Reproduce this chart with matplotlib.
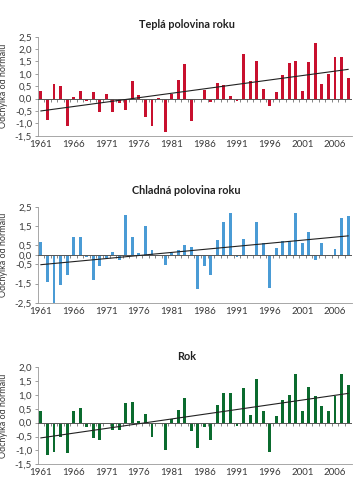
import matplotlib
matplotlib.use("Agg")
import matplotlib.pyplot as plt
import numpy as np

years = list(range(1961, 2009))

warm = [0.30, -0.88, 0.58, 0.50, -1.10, 0.05, 0.30, -0.10, 0.25, -0.55,
        0.20, -0.55, -0.18, -0.48, 0.70, 0.15, -0.75, -1.12, 0.02, -1.35,
        0.20, 0.77, 1.38, -0.92, -0.02, 0.35, -0.12, 0.63, 0.56, 0.12,
        -0.08, 1.82, 0.72, 1.53, 0.38, -0.32, 0.25, 0.95, 1.42, 1.50,
        0.30, 1.48, 2.25, 0.60, 1.00, 1.70, 1.70, 0.82]

cold = [0.68, -1.42, -2.60, -1.58, -1.05, 0.90, 0.90, -0.10, -1.34, -0.60,
        -0.18, 0.15, -0.28, 2.06, 0.90, 0.08, 1.48, 0.27, -0.03, -0.53,
        0.10, 0.25, 0.51, 0.42, -1.81, -0.60, -1.04, 0.76, 1.72, 2.15,
        -0.10, 0.80, -0.05, 1.72, 0.62, -1.72, 0.35, 0.72, 0.72, 2.15,
        0.63, 1.18, -0.28, 0.63, -0.05, 0.28, 1.90, 2.04]

annual = [0.43, -1.18, -1.05, -0.52, -1.11, 0.43, 0.53, -0.17, -0.55, -0.62,
          -0.03, -0.27, -0.27, 0.72, 0.75, 0.05, 0.30, -0.50, -0.03, -0.97,
          0.12, 0.47, 0.90, -0.29, -0.92, -0.17, -0.61, 0.65, 1.07, 1.05,
          -0.12, 1.26, 0.28, 1.56, 0.43, -1.04, 0.23, 0.80, 1.01, 1.76,
          0.41, 1.28, 0.96, 0.58, 0.41, 0.94, 1.76, 1.37]

trend_warm = [-0.50, 1.18]
trend_cold = [-0.52, 0.98]
trend_annual = [-0.55, 1.05]

titles = ["Teplá polovina roku", "Chladná polovina roku", "Rok"]
xtick_years = [1961, 1966, 1971, 1976, 1981, 1986, 1991, 1996, 2001, 2006]
yticks_warm = [-1.5, -1.0, -0.5, 0.0, 0.5, 1.0, 1.5, 2.0, 2.5]
yticks_cold = [-2.5, -1.5, -0.5, 0.0, 0.5, 1.5, 2.5]
yticks_annual = [-1.5, -1.0, -0.5, 0.0, 0.5, 1.0, 1.5, 2.0]
ylabel = "Odchylka od normálu"

colors = ["#C8102E", "#4A9BD5", "#0B6B2E"]
series = [warm, cold, annual]
trends = [trend_warm, trend_cold, trend_annual]
yticks_all = [yticks_warm, yticks_cold, yticks_annual]
ylims = [(-1.5, 2.5), (-2.5, 2.5), (-1.5, 2.0)]

plt.rcParams['font.family'] = ['Lato', 'DejaVu Sans']

W, H = 354, 478
fig = plt.figure(figsize=(W / 100, H / 100), dpi=100)

boxes = [(36.7, 135.7), (206.7, 302.7), (367.0, 464.3)]
title_y = [25, 190, 357]
left_px, right_px = 38.3, 352.0

tick_col = "#3a3a3a"
for i in range(3):
    top, bot = boxes[i]
    ax = fig.add_axes([left_px / W, 1 - bot / H, (right_px - left_px) / W, (bot - top) / H])
    yrs = np.array(years)
    ax.bar(yrs, series[i], width=0.45, color=colors[i], zorder=2)
    ax.set_xlim(1960.6, 2008.6)
    ax.set_ylim(*ylims[i])
    ax.axhline(0, color="#555555", lw=0.7, zorder=3)
    ax.vlines(yrs[:-1] + 0.5, -0.035 * (ylims[i][1] - ylims[i][0]), 0,
              color="#555555", lw=0.5, zorder=3)
    ax.plot([years[0], years[-1]], trends[i], color="#222222", lw=0.8, zorder=4)
    ax.set_yticks(yticks_all[i])
    ax.set_yticklabels([f"{v:.1f}".replace(".", ",") if v != 0 else "0,0"
                        for v in yticks_all[i]])
    ax.set_xticks(xtick_years)
    ax.set_xticklabels([str(y) for y in xtick_years])
    ax.tick_params(axis='x', length=0, labelsize=7, colors=tick_col, pad=3)
    ax.tick_params(axis='y', length=2.5, width=0.5, labelsize=7, colors=tick_col, pad=2,
                   color="#777777")
    ax.spines['top'].set_visible(False)
    ax.spines['right'].set_visible(False)
    for s in ['left', 'bottom']:
        ax.spines[s].set_color("#999999")
        ax.spines[s].set_linewidth(0.6)
    ax.set_ylabel(ylabel, fontsize=6.5, color=tick_col, labelpad=2)
    ax.yaxis.set_label_coords(-0.095, 0.5)
    fig.text(0.527, 1 - title_y[i] / H, titles[i], ha='center', va='center',
             fontsize=7.8, fontweight='bold', color="#222222")

fig.savefig("out.png", dpi=100)
